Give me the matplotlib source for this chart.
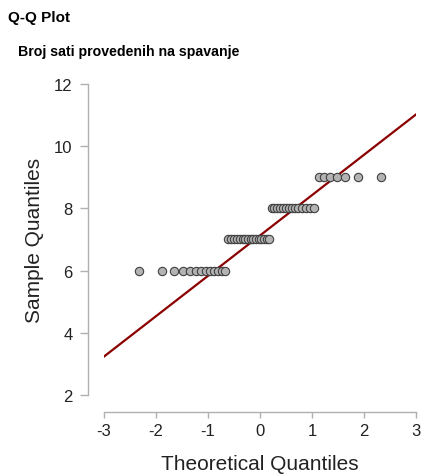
import numpy as np
import matplotlib
matplotlib.use('Agg')
import matplotlib.pyplot as plt
from statistics import NormalDist

# sleep hours (sample) as value levels and how often each one occurs
hour_levels = [6, 7, 8, 9]
hour_counts = [13, 16, 14, 7]

x_ticks = [-3, -2, -1, 0, 1, 2, 3]
y_ticks = [2, 4, 6, 8, 10, 12]

sample = np.sort(np.repeat(hour_levels, hour_counts))
n = len(sample)
# plotting positions as in R ppoints (n > 10)
probs = (np.arange(1, n + 1) - 0.5) / n
theo = np.array([NormalDist().inv_cdf(p) for p in probs])

# reference line through the quartiles (qqline)
q1, q3 = np.percentile(sample, [25, 75])
z1, z3 = NormalDist().inv_cdf(0.25), NormalDist().inv_cdf(0.75)
slope = (q3 - q1) / (z3 - z1)
intercept = q1 - slope * z1

plt.rcParams['font.family'] = ['Liberation Sans', 'DejaVu Sans']
plt.rcParams['axes.unicode_minus'] = False

fig = plt.figure(figsize=(4.21, 4.77), dpi=100)
ax = fig.add_axes([0.247, 0.170, 0.741, 0.652])

xl = np.array([-3, 3])
ax.plot(xl, intercept + slope * xl, color='#8b0000', linewidth=1.6, zorder=2)
ax.scatter(theo, sample, s=36, facecolor='#b3b3b3', edgecolor='#404040',
           linewidth=0.8, zorder=3, clip_on=False)

ax.set_xlim(-3, 3)
ax.set_ylim(2, 12)
ax.set_xticks(x_ticks)
ax.set_yticks(y_ticks)

for s in ['top', 'right']:
    ax.spines[s].set_visible(False)
ax.spines['left'].set_position(('outward', 11.5))
ax.spines['bottom'].set_position(('outward', 12))
ax.spines['left'].set_bounds(2, 12)
ax.spines['bottom'].set_bounds(-3, 3)
for s in ['left', 'bottom']:
    ax.spines[s].set_color('#b0b0b0')
    ax.spines[s].set_linewidth(1.0)
ax.tick_params(direction='out', width=1.0, color='#b0b0b0',
               labelsize=12, labelcolor='#222222')
ax.tick_params(axis='x', length=4.5, pad=4)
ax.tick_params(axis='y', length=6, pad=5)

ax.set_xlabel('Theoretical Quantiles', fontsize=15, labelpad=11, color='#222222')
ax.set_ylabel('Sample Quantiles', fontsize=15, labelpad=7, color='#222222')

fig.text(0.019, 0.962, 'Q-Q Plot', fontsize=11, fontweight='bold', va='center')
fig.text(0.043, 0.891, 'Broj sati provedenih na spavanje', fontsize=10.2,
         fontweight='bold', va='center')

fig.savefig('out.png', dpi=100)
